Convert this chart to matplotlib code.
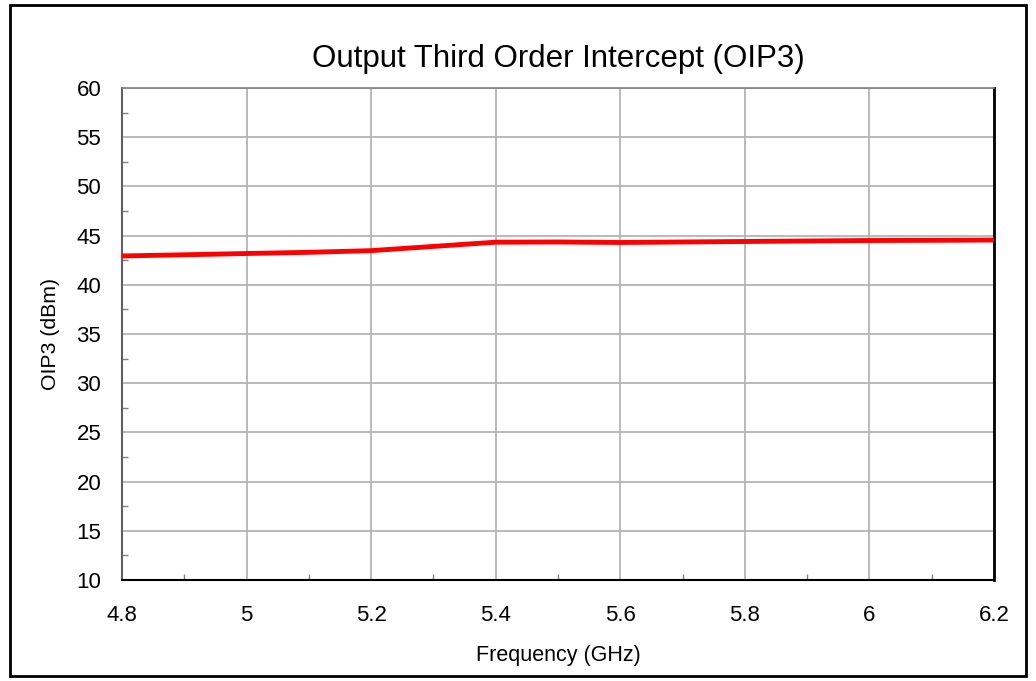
import matplotlib
matplotlib.use("Agg")
import matplotlib.pyplot as plt
from matplotlib.ticker import MultipleLocator
from matplotlib.patches import Rectangle

freq = [4.8, 4.9, 5.0, 5.1, 5.2, 5.3, 5.4, 5.5, 5.6, 5.7, 5.8, 5.9, 6.0, 6.1, 6.2]
oip3 = [42.93, 43.05, 43.18, 43.3, 43.47, 43.9, 44.33, 44.35, 44.3, 44.35, 44.4, 44.45, 44.5, 44.52, 44.55]

xticks = [4.8, 5.0, 5.2, 5.4, 5.6, 5.8, 6.0, 6.2]
xticklabels = ["4.8", "5", "5.2", "5.4", "5.6", "5.8", "6", "6.2"]
yticks = [10, 15, 20, 25, 30, 35, 40, 45, 50, 55, 60]

plt.rcParams['font.family'] = ['Liberation Sans', 'DejaVu Sans']

fig = plt.figure(figsize=(10.36, 6.81), dpi=100)
ax = fig.add_axes([0.1178, 0.1483, 0.9595 - 0.1178, 0.8708 - 0.1483])

ax.plot(freq, oip3, color='#ff0000', lw=3.5, solid_capstyle='butt', zorder=3, clip_on=False)

ax.set_xlim(4.8, 6.2)
ax.set_ylim(10, 60)
ax.set_xticks(xticks)
ax.set_xticklabels(xticklabels)
ax.set_yticks(yticks)
ax.xaxis.set_minor_locator(MultipleLocator(0.1))
ax.yaxis.set_minor_locator(MultipleLocator(2.5))
ax.tick_params(axis='both', which='major', length=0, labelsize=16)
ax.tick_params(axis='y', which='major', pad=15)
ax.tick_params(axis='x', which='major', pad=18)
ax.tick_params(axis='both', which='minor', direction='in', length=4, color='#808080', width=1)
ax.grid(True, which='major', color='#b4b4b4', lw=1.3)

ax.spines['left'].set_color('#606060')
ax.spines['left'].set_linewidth(1.5)
ax.spines['bottom'].set_color('black')
ax.spines['bottom'].set_linewidth(1.5)
ax.spines['top'].set_color('#808080')
ax.spines['top'].set_linewidth(1.2)
ax.spines['right'].set_color('black')
ax.spines['right'].set_linewidth(2)

ax.set_title("Output Third Order Intercept (OIP3)", fontsize=22.5, pad=15)
ax.set_xlabel("Frequency (GHz)", fontsize=15.5, labelpad=14)
ax.set_ylabel("OIP3 (dBm)", fontsize=15.3, labelpad=11.5)

fig.patches.append(Rectangle((10/1036, 5/681), 1016/1036, 671/681, transform=fig.transFigure,
                             fill=False, edgecolor='black', lw=2))

fig.savefig("out.png", dpi=100)
